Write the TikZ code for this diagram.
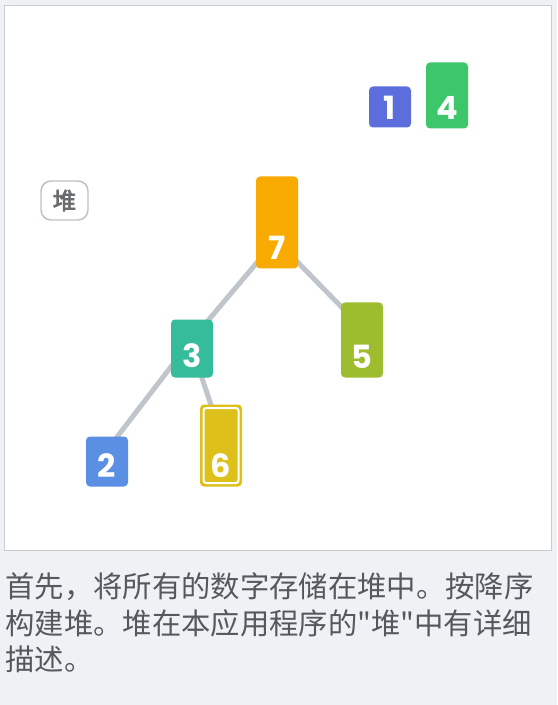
\documentclass[tikz,border=0pt]{standalone}
\usepackage{fontspec}
\setmainfont{Poppins}
\newfontfamily\cjk{Noto Sans CJK SC}[AutoFakeBold=3]
\usetikzlibrary{calc,backgrounds}

\definecolor{panelbg}{RGB}{238,242,245}
\definecolor{panelline}{RGB}{200,204,209}
\definecolor{edgegray}{RGB}{192,197,204}
\definecolor{captiongray}{RGB}{85,88,92}
\definecolor{tagline}{RGB}{190,192,194}
\definecolor{tagtext}{RGB}{105,107,110}
\definecolor{cone}{RGB}{92,110,219}
\definecolor{cfour}{RGB}{60,199,107}
\definecolor{cseven}{RGB}{249,170,0}
\definecolor{cthree}{RGB}{53,188,155}
\definecolor{cfive}{RGB}{157,188,46}
\definecolor{ctwo}{RGB}{90,143,227}
\definecolor{csix}{RGB}{221,193,26}

\tikzset{every picture/.style={line width=0.75pt}}
\tikzset{
  numbox/.style={fill=#1, draw=none, rounded corners=3pt, minimum width=31.5pt, inner sep=0pt, anchor=south},
  digit/.style={text=white, font=\fontsize{24}{24}\selectfont\bfseries, inner sep=0pt},
  treeedge/.style={draw=edgegray, line width=3.75pt}
}

\begin{document}
\begin{tikzpicture}[x=0.75pt,y=0.75pt,yscale=-1,xscale=1]
	\useasboundingbox (0,0) rectangle (557,705);
	
	%Shape: Boxes of the heap
	\node [numbox=cseven, minimum height=69pt] (n7) at (277,269) {};
	\node [numbox=cthree, minimum height=43.5pt] (n3) at (192,378) {};
	\node [numbox=cfive, minimum height=56.25pt] (n5) at (362,378) {};
	\node [numbox=ctwo, minimum height=37.5pt] (n2) at (107,487) {};
	\node [numbox=csix, minimum height=61.5pt] (n6) at (221,487) {};
	%Shape: Boxes waiting
	\node [numbox=cone, minimum height=30.75pt] (n1) at (390,128) {};
	\node [numbox=cfour, minimum height=49.5pt] (n4) at (447,129) {};
	%Shape: inner frame of 6
	\draw [white, line width=1.5pt, rounded corners=2pt] ($(n6.south west)+(4,-4)$) rectangle ($(n6.north east)+(-4,4)$);
	
	%Straight Lines [tree]
	\coordinate (k7) at ($(n7.south)+(-1,-29)$);
	\coordinate (k3) at ($(n3.south)+(-2,-36)$);
	\coordinate (k5) at ($(n5.south)+(0,-50)$);
	\coordinate (k2) at ($(n2.south)+(0,-37)$);
	\coordinate (k6) at ($(n6.south)+(-5,-67)$);
	\begin{scope}[on background layer]
		%Shape: Rectangle [background]
		\fill [panelbg] (0,0) rectangle (557,705);
		%Shape: Rectangle [panel]
		\draw [draw=panelline, fill=white, line width=1.2pt] (4.5,5.5) rectangle (551.5,550.5);
		\path [treeedge] (k7) -- (k3);
		\path [treeedge] (k7) -- (k5);
		\path [treeedge] (k3) -- (k2);
		\path [treeedge] (k3) -- (k6);
	\end{scope}
	
	% Text Node
	\node [digit] (d7) at ($(n7.south)+(0,-21)$) {7};
	\node [digit] (d3) at ($(n3.south)+(0,-22)$) {3};
	\node [digit] (d5) at ($(n5.south)+(0,-21)$) {5};
	\node [digit] (d2) at ($(n2.south)+(0,-21)$) {2};
	\node [digit] (d6) at ($(n6.south)+(0,-21)$) {6};
	\node [digit] (d1) at ($(n1.south)+(0,-20)$) {1};
	\node [digit] (d4) at ($(n4.south)+(0,-21)$) {4};
	
	% Text Node
	\node [draw=tagline, fill=white, line width=1.1pt, rounded corners=7.5pt, minimum width=35.25pt, minimum height=29.25pt, inner sep=0pt, text=tagtext, font=\cjk\bfseries\fontsize{17.5}{17.5}\selectfont] (heap) at (64.5,200.5) {堆};
	
	% Text Node
	\node [anchor=north west, inner sep=0pt, align=left, text=captiongray, font=\cjk\fontsize{22}{27.5}\selectfont] (caption) at (5,572) {首先，将所有的数字存储在堆中。按降序\\构建堆。堆在本应用程序的"堆"中有详细\\描述。};
\end{tikzpicture}
\end{document}
